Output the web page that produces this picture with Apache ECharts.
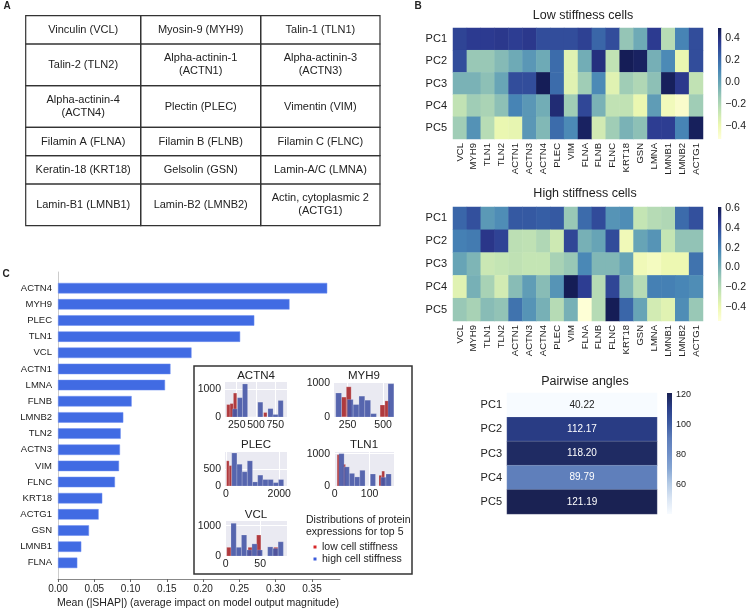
<!DOCTYPE html>
<html>
<head>
<meta charset="utf-8">
<script src="https://cdn.jsdelivr.net/npm/echarts@6/dist/echarts.min.js"></script>
<style>
html, body { margin: 0; background: #fff; }
#chart { width: 749px; height: 610px; }
</style>
</head>
<body>
<div id="chart"></div>
<script>
// ---- data ----
const proteins = ['VCL','MYH9','TLN1','TLN2','ACTN1','ACTN3','ACTN4','PLEC','VIM','FLNA','FLNB','FLNC','KRT18','GSN','LMNA','LMNB1','LMNB2','ACTG1'];
const pcs = ['PC1','PC2','PC3','PC4','PC5'];

// loadings, low stiffness cells (rows PC1..PC5)
const lowStiff = [
  [0.33,0.36,0.36,0.37,0.35,0.37,0.30,0.30,0.30,0.34,0.22,0.30,-0.12,-0.02,0.36,-0.22,0.12,0.30],
  [0.30,-0.13,-0.13,-0.08,-0.02,0.05,-0.02,0.20,-0.35,-0.03,0.40,-0.25,0.48,0.46,-0.04,0.10,-0.38,0.30],
  [-0.05,-0.05,-0.10,0.00,0.30,0.30,0.48,0.20,-0.35,-0.15,0.10,-0.35,-0.15,-0.20,-0.10,0.47,0.37,-0.25],
  [-0.25,-0.15,-0.18,-0.10,0.12,0.05,-0.03,0.42,-0.15,0.32,-0.05,-0.25,-0.25,-0.38,0.03,-0.42,-0.47,-0.15],
  [-0.15,0.07,-0.22,-0.38,-0.37,0.05,-0.07,0.20,0.10,0.46,-0.30,-0.15,-0.05,-0.10,0.35,0.35,0.12,0.47]
];
// loadings, high stiffness cells
const highStiff = [
  [0.30,0.38,0.10,0.15,0.35,0.35,0.33,0.35,-0.10,0.28,0.40,0.12,0.15,-0.25,-0.20,-0.18,0.28,0.38],
  [0.20,0.22,0.48,0.43,-0.22,-0.23,-0.18,-0.28,0.42,0.00,0.05,0.40,-0.42,0.05,0.12,-0.25,-0.08,-0.08],
  [0.05,-0.02,-0.27,-0.25,-0.23,-0.25,-0.25,-0.15,-0.10,0.17,-0.03,-0.03,0.05,-0.42,-0.45,-0.40,-0.40,0.25],
  [-0.35,0.00,-0.15,-0.30,-0.05,0.08,-0.05,0.12,0.60,0.45,-0.20,0.42,-0.02,-0.20,0.20,0.20,0.18,0.15],
  [-0.10,-0.15,-0.05,-0.08,0.25,0.12,0.00,-0.20,0.00,-0.53,-0.20,0.60,0.30,0.05,-0.30,-0.35,0.15,-0.10]
];
const lowRange = [-0.515, 0.49];
const highRange = [-0.54, 0.61];
const lowTicks = [-0.4, -0.2, 0, 0.2, 0.4];
const highTicks = [-0.4, -0.2, 0, 0.2, 0.4, 0.6];

const angles = [40.22, 112.17, 118.20, 89.79, 121.19];
const angleTicks = [60, 80, 100, 120];

const shapNames = ['ACTN4','MYH9','PLEC','TLN1','VCL','ACTN1','LMNA','FLNB','LMNB2','TLN2','ACTN3','VIM','FLNC','KRT18','ACTG1','GSN','LMNB1','FLNA'];
const shapValues = [0.371,0.319,0.2705,0.251,0.184,0.155,0.1475,0.1015,0.090,0.0864,0.0854,0.0841,0.0785,0.061,0.056,0.0427,0.0321,0.0266];
const shapTicks = [0, 0.05, 0.10, 0.15, 0.20, 0.25, 0.30, 0.35];

const tableCells = [
  ['Vinculin (VCL)', 'Myosin-9 (MYH9)', 'Talin-1 (TLN1)'],
  ['Talin-2 (TLN2)', 'Alpha-actinin-1\n(ACTN1)', 'Alpha-actinin-3\n(ACTN3)'],
  ['Alpha-actinin-4\n(ACTN4)', 'Plectin (PLEC)', 'Vimentin (VIM)'],
  ['Filamin A (FLNA)', 'Filamin B (FLNB)', 'Filamin C (FLNC)'],
  ['Keratin-18 (KRT18)', 'Gelsolin (GSN)', 'Lamin-A/C (LMNA)'],
  ['Lamin-B1 (LMNB1)', 'Lamin-B2 (LMNB2)', 'Actin, cytoplasmic 2\n(ACTG1)']
];

// histograms: first bin edge, bin width, counts
const actn4Low  = { start: 120, width: 43.5, counts: [445,480,855,0,0,0,0,0,0,0,0,160] };
const actn4High = { start: 193, width: 66,   counts: [290,690,1180,0,0,530,0,300,90,590] };
const myh9Low   = { start: 207, width: 34,   counts: [580,880,0,0,0,0,0,0,350,470] };
const myh9High  = { start: 166, width: 41,   counts: [700,0,510,363,608,490,98,0,0,970] };
const plecLow   = { start: 20,  width: 97,   counts: [740,600] };
const plecHigh  = { start: 215, width: 195,  counts: [970,640,420,740,120,320,190,190,100,190] };
const tln1Low   = { start: 7,   width: 8,    counts: [970,0,670,0,0,0,0,0,0,0,0,0,0,0,0,330,460] };
const tln1High  = { start: 12,  width: 15,   counts: [1000,590,390,280,485,0,370,0,270,370] };
const vclLow    = { start: 1.5, width: 6.2,  counts: [287,0,0,0,0,287,0,693,0,0,0,287] };
const vclHigh   = { start: 7.7, width: 7.6,  counts: [1080,287,693,200,400,200,0,300,250,470] };

// ---- styling ----
const FONT = '"Liberation Sans", Arial, sans-serif';
const TXT = '#222';
const ylgnbu = ['#ffffd9','#edf8b1','#c5e5b4','#9ccab6','#6ba8b6','#4886b6','#3760a6','#2c398f','#131b52'];
const blues = ['#f7fbff','#dbe6f4','#b5cbe6','#86a6d3','#6f8fc8','#5d7dba','#3d5ba2','#2b3f8a','#1a2253'];
const RED = '#b03a3e';
const BLUE = '#4657a6';

const chart = echarts.init(document.getElementById('chart'));

function cells(m) {
  const d = [];
  m.forEach((row, y) => row.forEach((v, x) => d.push([x, y, v])));
  return d;
}
function bins(h) {
  return h.counts.map((c, i) => [h.start + i * h.width, h.start + (i + 1) * h.width, c]);
}
function histItem(params, api) {
  const p0 = api.coord([api.value(0), api.value(2)]);
  const p1 = api.coord([api.value(1), 0]);
  return {
    type: 'rect',
    shape: { x: p0[0], y: p0[1], width: p1[0] - p0[0], height: p1[1] - p0[1] },
    style: api.style()
  };
}
function gradient(colors) {
  return new echarts.graphic.LinearGradient(0, 1, 0, 0,
    colors.map((c, i) => ({ offset: i / (colors.length - 1), color: c })));
}
function colorbarSeries(idx, range, colors) {
  return {
    type: 'custom', xAxisIndex: idx, yAxisIndex: idx, silent: true,
    data: [[0, range[0], range[1]]],
    renderItem(params, api) {
      const top = api.coord([0, api.value(2)]);
      const bot = api.coord([0, api.value(1)]);
      const cs = params.coordSys;
      return { type: 'rect', shape: { x: cs.x, y: top[1], width: cs.width, height: bot[1] - top[1] },
        style: { fill: gradient(colors) } };
    }
  };
}

// ---- grids ----
const grids = [
  { left: 58, top: 272, width: 282, height: 307 },          // 0 shap bars
  { left: 453, top: 28, width: 250, height: 111 },          // 1 low heatmap
  { left: 718, top: 28, width: 7, height: 111 },            // 2 low colorbar
  { left: 453, top: 207, width: 250, height: 114 },         // 3 high heatmap
  { left: 718, top: 207, width: 7, height: 114 },           // 4 high colorbar
  { left: 507, top: 393, width: 150, height: 121 },         // 5 angles
  { left: 667, top: 393, width: 5, height: 121 },           // 6 angles colorbar
  { left: 225, top: 382, width: 62, height: 35 },           // 7 ACTN4
  { left: 334, top: 382, width: 60, height: 35 },           // 8 MYH9
  { left: 225, top: 452, width: 62, height: 34 },           // 9 PLEC
  { left: 334, top: 452, width: 60, height: 34 },           // 10 TLN1
  { left: 225, top: 521, width: 62, height: 35 }            // 11 VCL
];
grids.forEach((g, i) => {
  if (i >= 7) { g.show = true; g.backgroundColor = '#eaeaf2'; g.borderWidth = 0; }
});

const xAxes = [];
const yAxes = [];

// 0: shap bar chart
xAxes.push({
  gridIndex: 0, type: 'value', min: 0, max: 0.3886,
  axisLine: { show: true, lineStyle: { color: '#888' } },
  axisTick: { show: true, length: 3, customValues: shapTicks, lineStyle: { color: '#666' } },
  axisLabel: { customValues: shapTicks, formatter: v => v.toFixed(2), fontSize: 10, color: TXT, fontFamily: FONT, margin: 5 },
  splitLine: { show: false }
});
yAxes.push({
  gridIndex: 0, type: 'category', inverse: true, boundaryGap: false,
  data: [''].concat(shapNames, ['']),
  axisLine: { show: true, lineStyle: { color: '#ccc' } },
  axisTick: { show: false },
  axisLabel: { fontSize: 9.5, color: TXT, fontFamily: FONT, margin: 6, interval: 0 }
});

function heatAxes(gi) {
  xAxes.push({
    gridIndex: gi, type: 'category', data: proteins,
    axisLine: { show: false }, axisTick: { show: false }, splitLine: { show: false },
    axisLabel: { rotate: 90, interval: 0, fontSize: 9.5, color: TXT, fontFamily: FONT, margin: 4 }
  });
  yAxes.push({
    gridIndex: gi, type: 'category', data: pcs, inverse: true,
    axisLine: { show: false }, axisTick: { show: false },
    axisLabel: { fontSize: 11, color: TXT, fontFamily: FONT, margin: 6 }
  });
}
function barAxes(gi, range, ticks, fmt, fs) {
  xAxes.push({ gridIndex: gi, type: 'value', min: 0, max: 1, show: false });
  yAxes.push({
    gridIndex: gi, type: 'value', position: 'right', min: range[0], max: range[1],
    axisLine: { show: false }, splitLine: { show: false },
    axisTick: { show: true, length: 3, customValues: ticks, lineStyle: { color: '#333' } },
    axisLabel: { customValues: ticks, formatter: fmt, fontSize: fs, color: TXT, fontFamily: FONT, margin: 4 }
  });
}
const signFmt = v => (v < 0 ? '\u2212' + Math.abs(v).toFixed(1) : v.toFixed(1));
const plainFmt = v => String(v);

heatAxes(1);
barAxes(2, lowRange, lowTicks, signFmt, 10.5);
heatAxes(3);
barAxes(4, highRange, highTicks, signFmt, 10.5);
// 5: angles
xAxes.push({ gridIndex: 5, type: 'category', data: [''], show: false });
yAxes.push({
  gridIndex: 5, type: 'category', data: pcs, inverse: true,
  axisLine: { show: false }, axisTick: { show: false },
  axisLabel: { fontSize: 11, color: TXT, fontFamily: FONT, margin: 5 }
});
barAxes(6, [Math.min(...angles), Math.max(...angles)], angleTicks, plainFmt, 9);

// histograms
function histAxes(gi, xr, xt, ymax, yt) {
  xAxes.push({
    gridIndex: gi, type: 'value', min: xr[0], max: xr[1],
    axisLine: { show: false },
    axisTick: { show: false, customValues: xt },
    axisLabel: { customValues: xt, formatter: plainFmt, fontSize: 10.5, color: TXT, fontFamily: FONT, margin: 3 },
    splitLine: { show: true, lineStyle: { color: '#fff', width: 1 } }
  });
  yAxes.push({
    gridIndex: gi, type: 'value', min: 0, max: ymax,
    axisLine: { show: false },
    axisTick: { show: false, customValues: yt },
    axisLabel: { customValues: yt, formatter: plainFmt, fontSize: 10.5, color: TXT, fontFamily: FONT, margin: 4 },
    splitLine: { show: true, lineStyle: { color: '#fff', width: 1 } }
  });
}
histAxes(7, [98, 902], [250, 500, 750], 1250, [0, 1000]);
histAxes(8, [154, 577], [250, 500], 1020, [0, 1000]);
histAxes(9, [-38, 2290], [0, 2000], 1000, [0, 500]);
histAxes(10, [-2, 170], [0, 100], 1050, [0, 1000]);
histAxes(11, [-1, 89], [0, 50], 1155, [0, 1000]);

// ---- series ----
const series = [];
series.push({
  type: 'bar', xAxisIndex: 0, yAxisIndex: 0, barWidth: 10.5,
  data: [null].concat(shapValues, [null]),
  itemStyle: { color: '#416be3', borderColor: '#6f8ff0', borderWidth: 0.5 },
  silent: true
});
series.push({ type: 'heatmap', xAxisIndex: 1, yAxisIndex: 1, data: cells(lowStiff), silent: true });
series.push(colorbarSeries(2, lowRange, ylgnbu));
series.push({ type: 'heatmap', xAxisIndex: 3, yAxisIndex: 3, data: cells(highStiff), silent: true });
series.push(colorbarSeries(4, highRange, ylgnbu));
series.push({
  type: 'heatmap', xAxisIndex: 5, yAxisIndex: 5, silent: true,
  data: angles.map((v, i) => ({
    value: [0, i, v],
    label: { color: v < 70 ? '#222' : '#fff' }
  })),
  itemStyle: { borderColor: 'rgba(255,255,255,0.25)', borderWidth: 0.6 },
  label: { show: true, formatter: p => p.value[2].toFixed(2), fontSize: 10, fontFamily: FONT }
});
series.push(colorbarSeries(6, [Math.min(...angles), Math.max(...angles)], blues));

const hists = [[actn4Low, actn4High], [myh9Low, myh9High], [plecLow, plecHigh], [tln1Low, tln1High], [vclLow, vclHigh]];
hists.forEach((pair, k) => {
  const gi = 7 + k;
  series.push({
    type: 'custom', xAxisIndex: gi, yAxisIndex: gi, silent: true, clip: true,
    data: bins(pair[0]), renderItem: histItem,
    itemStyle: { color: RED, borderColor: 'rgba(255,255,255,0.5)', borderWidth: 0.4 }
  });
  series.push({
    type: 'custom', xAxisIndex: gi, yAxisIndex: gi, silent: true, clip: true,
    data: bins(pair[1]), renderItem: histItem,
    itemStyle: { color: BLUE, opacity: 0.9, borderColor: 'rgba(255,255,255,0.5)', borderWidth: 0.4 }
  });
});

// ---- static text and table ----
const graphics = [];
function txt(x, y, s, size, opts) {
  graphics.push({
    type: 'text', silent: true,
    style: Object.assign({
      text: s, x: x, y: y, fill: TXT,
      font: size + 'px ' + FONT,
      textAlign: 'center', textVerticalAlign: 'middle',
      align: 'center', verticalAlign: 'middle'
    }, opts || {})
  });
}
txt(7, 6, 'A', 10, { font: 'bold 10px ' + FONT });
txt(418, 6, 'B', 10, { font: 'bold 10px ' + FONT });
txt(6, 274, 'C', 10, { font: 'bold 10px ' + FONT });

const colEdges = [25.7, 140.7, 260.7, 380];
const rowEdges = [15.7, 44, 85.7, 127.3, 155.7, 184, 225.7];
tableCells.forEach((row, r) => {
  row.forEach((s, c) => {
    const x0 = colEdges[c], x1 = colEdges[c + 1], y0 = rowEdges[r], y1 = rowEdges[r + 1];
    graphics.push({
      type: 'rect', silent: true,
      shape: { x: x0, y: y0, width: x1 - x0, height: y1 - y0 },
      style: { fill: 'none', stroke: '#333', lineWidth: 1.2 }
    });
    txt((x0 + x1) / 2, (y0 + y1) / 2, s, 11, { lineHeight: 13 });
  });
});

txt(583, 16, 'Low stiffness cells', 12.5);
txt(585, 194, 'High stiffness cells', 12.5);
txt(585, 382, 'Pairwise angles', 12.5);
txt(198, 603, 'Mean (|SHAP|) (average impact on model output magnitude)', 10.5);

// inset box
graphics.push({
  type: 'rect', silent: true,
  shape: { x: 194, y: 366, width: 218, height: 208 },
  style: { fill: 'none', stroke: '#333', lineWidth: 1.5 }
});
txt(256, 376, 'ACTN4', 11.5);
txt(364, 376, 'MYH9', 11.5);
txt(256, 445, 'PLEC', 11.5);
txt(364, 445, 'TLN1', 11.5);
txt(256, 515, 'VCL', 11.5);
txt(306, 520, 'Distributions of protein', 10.5, { textAlign: 'left', align: 'left' });
txt(306, 532, 'expressions for top 5', 10.5, { textAlign: 'left', align: 'left' });
graphics.push({ type: 'rect', silent: true, shape: { x: 313.5, y: 545.5, width: 3, height: 3 }, style: { fill: '#d62728' } });
graphics.push({ type: 'rect', silent: true, shape: { x: 313.5, y: 557.5, width: 3, height: 3 }, style: { fill: '#3b5bdb' } });
txt(322, 547, 'low cell stiffness', 10.5, { textAlign: 'left', align: 'left' });
txt(322, 559, 'high cell stiffness', 10.5, { textAlign: 'left', align: 'left' });

chart.setOption({
  animation: false,
  backgroundColor: '#fff',
  textStyle: { fontFamily: FONT },
  grid: grids,
  xAxis: xAxes,
  yAxis: yAxes,
  visualMap: [
    { type: 'continuous', show: false, seriesIndex: 1, dimension: 2, min: lowRange[0], max: lowRange[1], inRange: { color: ylgnbu } },
    { type: 'continuous', show: false, seriesIndex: 3, dimension: 2, min: highRange[0], max: highRange[1], inRange: { color: ylgnbu } },
    { type: 'continuous', show: false, seriesIndex: 5, dimension: 2, min: Math.min(...angles), max: Math.max(...angles), inRange: { color: blues } }
  ],
  series: series,
  graphic: graphics
});
</script>
</body>
</html>
